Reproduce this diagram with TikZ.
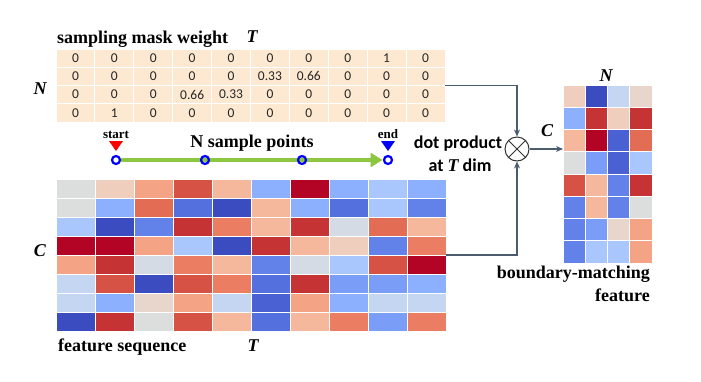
\documentclass[tikz,border=0pt]{standalone}
\usepackage{fontspec}
\setmainfont{Liberation Serif}
\newfontfamily\calf{Carlito}
\usetikzlibrary{arrows.meta,backgrounds}

\definecolor{peach}{HTML}{FDE9D1}
\definecolor{numc}{HTML}{262626}
\definecolor{connc}{HTML}{4C5B6E}
\definecolor{grn}{HTML}{8DC63F}
\definecolor{gy}{HTML}{DCDDDD}
\definecolor{gb}{HTML}{D5DBE5}
\definecolor{pk}{HTML}{EFCEBD}
\definecolor{pkk}{HTML}{E8D6CC}
\definecolor{ls}{HTML}{F5B89C}
\definecolor{sa}{HTML}{F4A384}
\definecolor{ora}{HTML}{EB7D62}
\definecolor{orb}{HTML}{E36C55}
\definecolor{rb}{HTML}{D65244}
\definecolor{rd}{HTML}{C53334}
\definecolor{dr}{HTML}{B40426}
\definecolor{lb}{HTML}{C5D6F2}
\definecolor{ba}{HTML}{AAC7FD}
\definecolor{bb}{HTML}{8DB0FE}
\definecolor{bc}{HTML}{7A9DF8}
\definecolor{bd}{HTML}{6282EA}
\definecolor{be}{HTML}{5470DE}
\definecolor{dbb}{HTML}{4961D2}
\definecolor{db}{HTML}{3B4CC0}

\tikzset{
  lbl/.style={font=\fontsize{18}{20}\selectfont\bfseries, inner sep=0},
  var/.style={font=\fontsize{18}{20}\selectfont\bfseries\itshape, inner sep=0},
  small/.style={font=\fontsize{13}{15}\selectfont\bfseries, inner sep=0},
  num/.style={font=\calf\fontsize{13.5}{15}\selectfont, text=numc, inner sep=0},
  dptext/.style={font=\calf\fontsize{18}{20}\selectfont\bfseries, inner sep=0},
  conn/.style={draw=connc, line width=1.3pt, -{Stealth[length=7pt,width=6pt]}},
  samp/.style={circle, draw=blue, line width=2.2pt, minimum size=8pt, inner sep=0},
  cell/.style={draw=white, line width=1pt},
  area/.style={inner sep=0, outer sep=0, anchor=north west}
}

\begin{document}
\begin{tikzpicture}[x=1pt,y=-1pt]
\begin{scope}[on background layer]
\fill[white] (0,0) rectangle (701,381);
\end{scope}
\useasboundingbox (0,0) rectangle (701,381);

% ---------- mask table ----------
\node[area, minimum width=389pt, minimum height=73pt] (mt) at (56,49) {};
\foreach \row [count=\i] in {{0,0,0,0,0,0,0,0,1,0},{0,0,0,0,0,0.33,0.66,0,0,0},{0,0,0,0.66,0.33,0,0,0,0,0},{0,1,0,0,0,0,0,0,0,0}}{
  \foreach \v [count=\j] in \row {
    \filldraw[fill=peach, cell] ({56+(\j-1)*38.9},{49+(\i-1)*18.25}) rectangle ++(38.9,18.25);
    \node[num] (m\i-\j) at ({56+(\j-0.5)*38.9},{49+(\i-0.5)*18.25}) {\v};
  }
}
\node[lbl, anchor=base west] (mtitle) at (57,43) {sampling mask weight};
\node[var, anchor=base] (tT) at (252,42) {T};
\node[var, anchor=base] (nN) at (40,94) {N};

% ---------- sample points ----------
\coordinate (s0) at (116,160);
\coordinate (s1) at (205,160);
\coordinate (s2) at (302,160);
\coordinate (s3) at (388,160);
\draw[draw=grn, line width=3.5pt, shorten <=5pt, shorten >=5.5pt, -{Triangle[length=12pt,width=14pt]}] (s0) -- (s3);
\node[samp, fill=white] (c0) at (s0) {};
\node[samp] (c1) at (s1) {};
\node[samp] (c2) at (s2) {};
\node[samp, fill=white] (c3) at (s3) {};
\fill[red] (109,141) -- (123,141) -- (116,151) -- cycle;
\fill[blue] (381,141) -- (395,141) -- (388,151) -- cycle;
\node[small, anchor=base] (st) at (116,138) {start};
\node[small, anchor=base] (en) at (388,138) {end};
\node[lbl, anchor=base] (nsp) at (252,147) {N sample points};

% ---------- feature sequence ----------
\node[area, minimum width=390pt, minimum height=152pt] (fs) at (56,179) {};
\foreach \row [count=\i] in {
  {gy,pk,sa,rb,ls,bb,dr,bb,ba,bb},
  {gy,bb,orb,be,db,ls,bb,be,ba,bd},
  {ba,db,bd,rd,ora,ls,rd,gb,orb,ls},
  {dr,dr,sa,ba,db,rd,ls,pk,bd,ora},
  {sa,rd,gb,ora,ls,bd,gb,ba,rb,dr},
  {lb,rb,db,rb,ora,be,rd,bc,bc,bb},
  {lb,bb,pkk,sa,lb,dbb,sa,bb,lb,lb},
  {db,rd,gy,rb,ls,be,ls,ora,bc,ora}}{
  \foreach \c [count=\j] in \row {
    \filldraw[fill=\c, cell] ({56+(\j-1)*39},{179+(\i-1)*19}) rectangle ++(39,19);
  }
}
\node[var, anchor=base] (cC) at (40,256) {C};
\node[lbl, anchor=base west] (fst) at (58,351) {feature sequence};
\node[var, anchor=base] (tT2) at (253,351) {T};

% ---------- dot product ----------
\node[circle, draw=black!80, line width=1pt, minimum size=24pt, inner sep=0] (ot) at (517,149) {};
\draw[black!80, line width=1pt] (ot.north west) -- (ot.south east);
\draw[black!80, line width=1pt] (ot.north east) -- (ot.south west);
\node[dptext, anchor=base] (dp1) at (458,148) {dot product};
\node[dptext, anchor=base] (dp2) at (460,171) {at {\rmfamily\itshape T} dim};

% ---------- boundary-matching feature ----------
\node[area, minimum width=89pt, minimum height=178pt] (rh) at (563,85) {};
\foreach \row [count=\i] in {
  {pk,db,lb,pkk},
  {bb,rd,pk,rd},
  {ls,dr,dbb,orb},
  {gy,bc,dbb,ba},
  {rb,ls,bd,rd},
  {bd,ls,bd,gy},
  {bd,bc,pkk,sa},
  {bd,ba,ba,sa}}{
  \foreach \c [count=\j] in \row {
    \filldraw[fill=\c, cell] ({563+(\j-1)*22.25},{85+(\i-1)*22.25}) rectangle ++(22.25,22.25);
  }
}
\node[var, anchor=base] (rN) at (606,81) {N};
\node[var, anchor=base] (rC) at (547,136) {C};
\node[lbl, anchor=base east] (bm1) at (650,278) {boundary-matching};
\node[lbl, anchor=base east] (bm2) at (650,301) {feature};

% ---------- connectors ----------
\draw[conn] (mt.east) -| (ot.north);
\draw[conn] (fs.east) -| (ot.south);
\draw[conn] (ot.east) -- (ot.east -| rh.west);
\end{tikzpicture}
\end{document}
